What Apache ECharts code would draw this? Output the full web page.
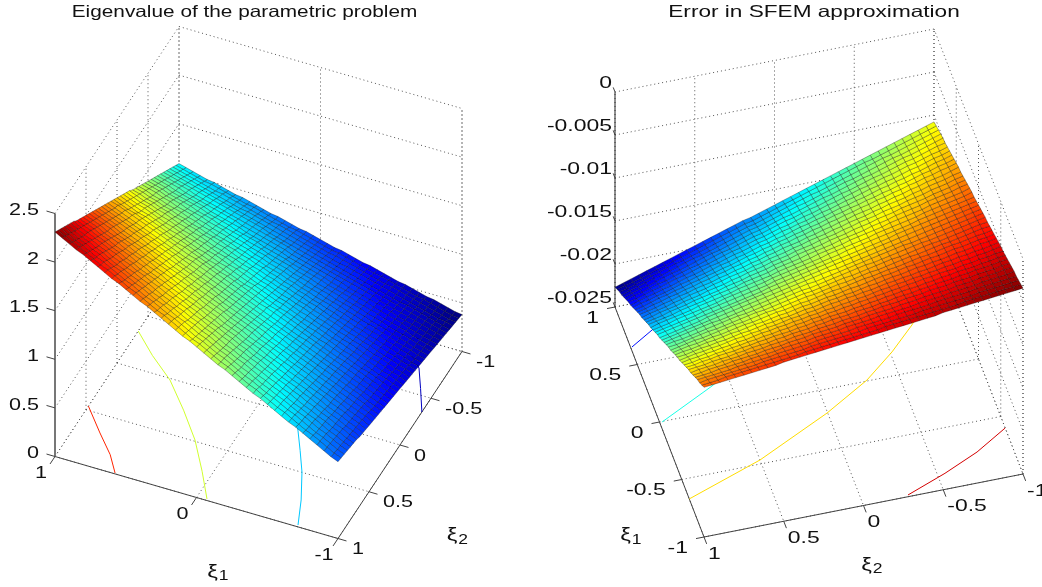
<!DOCTYPE html>
<html><head><meta charset="utf-8">
<style>html,body{margin:0;padding:0;background:#fff}#c{width:1042px;height:587px}</style>
<script src="https://cdn.jsdelivr.net/npm/echarts@6/dist/echarts.min.js"></script>
</head><body><div id="c"></div>
<script>
// parameter grid shared by both surfaces
const xiGrid=[-1,-.95,-.9,-.85,-.8,-.75,-.7,-.65,-.6,-.55,-.5,-.45,-.4,-.35,-.3,-.25,-.2,-.15,-.1,-.05,0,.05,.1,.15,.2,.25,.3,.35,.4,.45,.5,.55,.6,.65,.7,.75,.8,.85,.9,.95,1];
// eigenvalue x100: rows follow xi2 (-1..1), columns follow xi1 (-1..1)
const eigenRows=[
[38,39,41,43,45,46,48,50,52,53,55,57,59,61,62,64,66,68,69,71,73,75,77,78,80,82,84,85,87,89,91,93,94,96,98,100,101,103,105,107,109],
[39,40,42,44,46,48,49,51,53,55,57,59,60,62,64,66,68,70,71,73,75,77,79,81,82,84,86,88,90,92,93,95,97,99,101,103,104,106,108,110,112],
[40,41,43,45,47,49,51,53,55,57,58,60,62,64,66,68,70,72,73,75,77,79,81,83,85,87,88,90,92,94,96,98,100,102,103,105,107,109,111,113,115],
[41,43,44,46,48,50,52,54,56,58,60,62,64,66,68,70,71,73,75,77,79,81,83,85,87,89,91,93,95,97,98,100,102,104,106,108,110,112,114,116,118],
[42,44,46,48,50,52,54,55,57,59,61,63,65,67,69,71,73,75,77,79,81,83,85,87,89,91,93,95,97,99,101,103,105,107,109,111,113,115,117,119,121],
[43,45,47,49,51,53,55,57,59,61,63,65,67,69,71,73,75,77,79,81,83,85,87,89,91,93,96,98,100,102,104,106,108,110,112,114,116,118,120,122,124],
[44,46,48,50,52,54,56,58,60,62,65,67,69,71,73,75,77,79,81,83,85,87,90,92,94,96,98,100,102,104,106,108,110,112,114,116,119,121,123,125,127],
[45,47,49,51,53,55,57,60,62,64,66,68,70,72,75,77,79,81,83,85,87,89,92,94,96,98,100,102,104,107,109,111,113,115,117,119,121,124,126,128,130],
[46,48,50,52,54,57,59,61,63,65,68,70,72,74,76,78,81,83,85,87,89,91,94,96,98,100,102,104,107,109,111,113,115,118,120,122,124,126,129,131,133],
[47,49,51,53,56,58,60,62,65,67,69,71,74,76,78,80,83,85,87,89,91,94,96,98,100,103,105,107,109,112,114,116,118,121,123,125,127,129,132,134,136],
[48,50,52,55,57,59,61,64,66,68,71,73,75,78,80,82,84,87,89,91,94,96,98,100,103,105,107,110,112,114,116,119,121,123,126,128,130,132,135,137,139],
[49,51,53,56,58,60,63,65,67,70,72,75,77,79,82,84,86,89,91,93,96,98,100,103,105,107,110,112,114,117,119,121,124,126,128,131,133,135,138,140,142],
[50,52,55,57,59,62,64,67,69,71,74,76,79,81,83,86,88,90,93,95,98,100,102,105,107,110,112,114,117,119,121,124,126,129,131,133,136,138,141,143,145],
[51,53,56,58,61,63,66,68,70,73,75,78,80,83,85,87,90,92,95,97,100,102,104,107,109,112,114,117,119,121,124,126,129,131,134,136,138,141,143,146,148],
[52,54,57,59,62,64,67,69,72,74,77,79,82,84,87,89,92,94,97,99,102,104,107,109,112,114,117,119,122,124,126,129,131,134,136,139,141,144,146,149,151],
[53,56,58,61,63,66,68,71,73,76,78,81,83,86,89,91,94,96,99,101,104,106,109,111,114,116,119,122,124,127,129,132,134,137,139,142,144,147,149,152,154],
[54,57,59,62,64,67,70,72,75,77,80,83,85,88,90,93,95,98,101,103,106,108,111,114,116,119,121,124,126,129,132,134,137,139,142,145,147,150,152,155,158],
[55,58,60,63,66,68,71,74,76,79,81,84,87,89,92,95,97,100,102,105,108,110,113,116,118,121,124,126,129,132,134,137,139,142,145,147,150,153,155,158,161],
[56,59,61,64,67,69,72,75,78,80,83,86,88,91,94,96,99,102,104,107,110,112,115,118,121,123,126,129,131,134,137,139,142,145,147,150,153,156,158,161,164],
[57,60,63,65,68,71,74,76,79,82,84,87,90,93,95,98,101,104,106,109,112,115,117,120,123,126,128,131,134,136,139,142,145,147,150,153,156,158,161,164,167],
[58,61,64,66,69,72,75,78,80,83,86,89,92,94,97,100,103,105,108,111,114,117,119,122,125,128,131,133,136,139,142,145,147,150,153,156,159,161,164,167,170],
[59,62,65,68,71,73,76,79,82,85,88,90,93,96,99,102,105,108,110,113,116,119,122,125,128,130,133,136,139,142,145,147,150,153,156,159,162,165,167,170,173],
[60,63,66,69,72,75,78,81,83,86,89,92,95,98,101,104,107,110,113,115,118,121,124,127,130,133,136,139,142,144,147,150,153,156,159,162,165,168,171,174,176],
[61,64,67,70,73,76,79,82,85,88,91,94,97,99,102,105,108,111,114,117,120,123,126,129,132,135,138,141,144,146,149,152,155,158,161,164,167,170,173,176,179],
[62,65,68,71,74,77,80,83,86,89,92,95,98,101,104,107,110,113,116,119,122,125,128,131,134,137,140,143,146,149,152,155,158,161,164,167,170,173,176,179,182],
[63,66,69,72,75,78,82,85,88,91,94,97,100,103,106,109,112,115,118,121,124,127,130,133,136,139,142,145,148,151,155,158,161,164,167,170,173,176,179,182,185],
[64,67,70,74,77,80,83,86,89,92,95,98,101,104,108,111,114,117,120,123,126,129,132,135,139,142,145,148,151,154,157,160,163,166,170,173,176,179,182,185,188],
[65,68,72,75,78,81,84,87,90,94,97,100,103,106,109,112,116,119,122,125,128,131,134,138,141,144,147,150,153,156,160,163,166,169,172,175,178,182,185,188,191],
[66,70,73,76,79,82,86,89,92,95,98,101,105,108,111,114,117,121,124,127,130,133,137,140,143,146,149,153,156,159,162,165,169,172,175,178,181,185,188,191,194],
[67,71,74,77,80,84,87,90,93,97,100,103,106,110,113,116,119,123,126,129,132,136,139,142,145,149,152,155,158,162,165,168,171,175,178,181,184,188,191,194,197],
[68,72,75,78,82,85,88,91,95,98,101,105,108,111,115,118,121,124,128,131,134,138,141,144,148,151,154,157,161,164,167,171,174,177,181,184,187,190,194,197,200],
[69,73,76,80,83,86,90,93,96,100,103,106,110,113,116,120,123,126,130,133,136,140,143,146,150,153,156,160,163,167,170,173,177,180,183,187,190,193,197,200,203],
[70,74,77,81,84,87,91,94,98,101,104,108,111,115,118,121,125,128,132,135,138,142,145,149,152,155,159,162,166,169,172,176,179,183,186,189,193,196,200,203,206],
[71,75,78,82,85,89,92,96,99,103,106,109,113,116,120,123,127,130,134,137,141,144,147,151,154,158,161,165,168,172,175,178,182,185,189,192,196,199,203,206,209],
[73,76,80,83,87,90,94,97,101,104,108,111,115,118,122,125,129,132,136,139,143,146,150,153,157,160,164,167,171,174,178,181,185,188,192,195,199,202,206,209,213],
[74,77,81,84,88,91,95,98,102,106,109,113,116,120,123,127,130,134,137,141,145,148,152,155,159,162,166,169,173,177,180,184,187,191,194,198,201,205,208,212,216],
[75,78,82,85,89,93,96,100,103,107,111,114,118,121,125,129,132,136,139,143,147,150,154,157,161,165,168,172,175,179,183,186,190,193,197,201,204,208,211,215,219],
[76,79,83,87,90,94,98,101,105,109,112,116,119,123,127,130,134,138,141,145,149,152,156,160,163,167,171,174,178,182,185,189,193,196,200,204,207,211,214,218,222],
[77,80,84,88,91,95,99,103,106,110,114,117,121,125,128,132,136,140,143,147,151,154,158,162,166,169,173,177,180,184,188,191,195,199,203,206,210,214,217,221,225],
[78,81,85,89,93,96,100,104,108,111,115,119,123,126,130,134,138,141,145,149,153,156,160,164,168,172,175,179,183,187,190,194,198,202,205,209,213,217,220,224,228],
[79,82,86,90,94,98,102,105,109,113,117,121,124,128,132,136,140,143,147,151,155,159,162,166,170,174,178,182,185,189,193,197,200,204,208,212,216,219,223,227,231]
];
// error magnitude x1e-4 (plotted negative): rows follow xi2 (-1..1), columns follow xi1 (-1..1)
const errorRows=[
[34,36,38,40,41,43,45,47,49,51,52,54,56,58,60,62,64,65,67,69,71,73,75,76,78,80,82,84,86,87,89,91,93,95,97,99,100,102,104,106,108],
[35,37,39,41,43,44,46,48,50,52,54,56,58,60,62,63,65,67,69,71,73,75,77,79,81,82,84,86,88,90,92,94,96,98,100,101,103,105,107,109,111],
[36,38,40,42,44,46,48,50,52,54,56,58,59,61,63,65,67,69,71,73,75,77,79,81,83,85,87,89,91,93,94,96,98,100,102,104,106,108,110,112,114],
[37,39,41,43,45,47,49,51,53,55,57,59,61,63,65,67,69,71,73,75,77,79,81,83,85,87,89,91,93,95,97,99,101,103,105,107,109,111,113,115,117],
[38,40,42,44,46,48,50,52,55,57,59,61,63,65,67,69,71,73,75,77,79,81,83,85,87,89,91,93,95,97,99,101,104,106,108,110,112,114,116,118,120],
[39,41,43,45,48,50,52,54,56,58,60,62,64,66,68,71,73,75,77,79,81,83,85,87,89,91,94,96,98,100,102,104,106,108,110,112,114,117,119,121,123],
[40,42,45,47,49,51,53,55,57,60,62,64,66,68,70,72,75,77,79,81,83,85,87,89,92,94,96,98,100,102,104,107,109,111,113,115,117,119,122,124,126],
[41,43,46,48,50,52,54,57,59,61,63,65,68,70,72,74,76,79,81,83,85,87,89,92,94,96,98,100,103,105,107,109,111,114,116,118,120,122,124,127,129],
[42,45,47,49,51,54,56,58,60,62,65,67,69,71,74,76,78,80,83,85,87,89,92,94,96,98,100,103,105,107,109,112,114,116,118,121,123,125,127,130,132],
[43,46,48,50,53,55,57,59,62,64,66,69,71,73,75,78,80,82,85,87,89,91,94,96,98,100,103,105,107,110,112,114,116,119,121,123,126,128,130,132,135],
[44,47,49,51,54,56,58,61,63,65,68,70,72,75,77,79,82,84,86,89,91,93,96,98,100,103,105,107,110,112,114,117,119,121,124,126,128,131,133,135,138],
[46,48,50,53,55,57,60,62,65,67,69,72,74,76,79,81,84,86,88,91,93,96,98,100,103,105,107,110,112,115,117,119,122,124,126,129,131,134,136,138,141],
[47,49,51,54,56,59,61,64,66,68,71,73,76,78,81,83,85,88,90,93,95,98,100,102,105,107,110,112,115,117,119,122,124,127,129,132,134,136,139,141,144],
[48,50,53,55,58,60,62,65,67,70,72,75,77,80,82,85,87,90,92,95,97,100,102,105,107,110,112,114,117,119,122,124,127,129,132,134,137,139,142,144,147],
[49,51,54,56,59,61,64,66,69,71,74,76,79,81,84,87,89,92,94,97,99,102,104,107,109,112,114,117,119,122,124,127,129,132,135,137,140,142,145,147,150],
[50,52,55,57,60,63,65,68,70,73,75,78,81,83,86,88,91,93,96,99,101,104,106,109,111,114,117,119,122,124,127,129,132,135,137,140,142,145,148,150,153],
[51,53,56,59,61,64,66,69,72,74,77,80,82,85,87,90,93,95,98,101,103,106,108,111,114,116,119,122,124,127,129,132,135,137,140,143,145,148,150,153,156],
[52,54,57,60,62,65,68,71,73,76,79,81,84,87,89,92,95,97,100,103,105,108,111,113,116,119,121,124,127,129,132,135,137,140,143,145,148,151,153,156,159],
[53,56,58,61,64,66,69,72,75,77,80,83,86,88,91,94,96,99,102,105,107,110,113,115,118,121,124,126,129,132,134,137,140,143,145,148,151,153,156,159,162],
[54,57,59,62,65,68,71,73,76,79,82,84,87,90,93,95,98,101,104,106,109,112,115,118,120,123,126,129,131,134,137,140,142,145,148,151,154,156,159,162,165],
[55,58,61,63,66,69,72,75,78,80,83,86,89,92,94,97,100,103,106,108,111,114,117,120,123,125,128,131,134,137,139,142,145,148,151,153,156,159,162,165,168],
[56,59,62,65,67,70,73,76,79,82,85,87,90,93,96,99,102,105,108,110,113,116,119,122,125,128,130,133,136,139,142,145,148,150,153,156,159,162,165,168,171],
[57,60,63,66,69,72,75,77,80,83,86,89,92,95,98,101,104,107,109,112,115,118,121,124,127,130,133,136,139,141,144,147,150,153,156,159,162,165,168,171,174],
[58,61,64,67,70,73,76,79,82,85,88,91,94,97,100,102,105,108,111,114,117,120,123,126,129,132,135,138,141,144,147,150,153,156,159,162,165,168,171,174,177],
[59,62,65,68,71,74,77,80,83,86,89,92,95,98,101,104,107,110,113,116,119,122,125,128,131,134,137,140,143,146,149,152,155,158,161,164,167,170,173,176,179],
[60,63,66,69,72,75,79,82,85,88,91,94,97,100,103,106,109,112,115,118,121,124,127,130,134,137,140,143,146,149,152,155,158,161,164,167,170,173,176,179,182],
[61,64,67,71,74,77,80,83,86,89,92,95,99,102,105,108,111,114,117,120,123,126,130,133,136,139,142,145,148,151,154,157,161,164,167,170,173,176,179,182,185],
[62,65,69,72,75,78,81,84,88,91,94,97,100,103,106,110,113,116,119,122,125,129,132,135,138,141,144,147,151,154,157,160,163,166,169,173,176,179,182,185,188],
[63,67,70,73,76,79,83,86,89,92,95,99,102,105,108,111,115,118,121,124,127,131,134,137,140,143,147,150,153,156,159,163,166,169,172,175,179,182,185,188,191],
[64,68,71,74,77,81,84,87,90,94,97,100,103,107,110,113,116,120,123,126,129,133,136,139,142,146,149,152,155,159,162,165,168,172,175,178,181,185,188,191,194],
[65,69,72,75,79,82,85,89,92,95,98,102,105,108,112,115,118,122,125,128,131,135,138,141,145,148,151,155,158,161,164,168,171,174,178,181,184,188,191,194,197],
[67,70,73,77,80,83,87,90,93,97,100,103,107,110,113,117,120,123,127,130,133,137,140,143,147,150,154,157,160,164,167,170,174,177,180,184,187,190,194,197,200],
[68,71,74,78,81,85,88,91,95,98,102,105,108,112,115,118,122,125,129,132,135,139,142,146,149,152,156,159,163,166,169,173,176,180,183,186,190,193,197,200,203],
[69,72,76,79,82,86,89,93,96,100,103,106,110,113,117,120,124,127,131,134,137,141,144,148,151,155,158,162,165,168,172,175,179,182,186,189,193,196,199,203,206],
[70,73,77,80,84,87,91,94,98,101,105,108,112,115,119,122,126,129,132,136,139,143,146,150,153,157,160,164,167,171,174,178,181,185,188,192,195,199,202,206,209],
[71,74,78,81,85,88,92,96,99,103,106,110,113,117,120,124,127,131,134,138,142,145,149,152,156,159,163,166,170,173,177,180,184,188,191,195,198,202,205,209,212],
[72,75,79,83,86,90,93,97,100,104,108,111,115,118,122,126,129,133,136,140,144,147,151,154,158,161,165,169,172,176,179,183,187,190,194,197,201,204,208,212,215],
[73,76,80,84,87,91,95,98,102,106,109,113,116,120,124,127,131,135,138,142,146,149,153,156,160,164,167,171,175,178,182,185,189,193,196,200,204,207,211,215,218],
[74,78,81,85,89,92,96,100,103,107,111,114,118,122,125,129,133,137,140,144,148,151,155,159,162,166,170,173,177,181,184,188,192,195,199,203,206,210,214,218,221],
[75,79,82,86,90,94,97,101,105,109,112,116,120,123,127,131,135,138,142,146,150,153,157,161,164,168,172,176,179,183,187,191,194,198,202,205,209,213,217,220,224],
[76,80,84,87,91,95,99,102,106,110,114,118,121,125,129,133,136,140,144,148,152,155,159,163,167,170,174,178,182,185,189,193,197,201,204,208,212,216,219,223,227]
];
// axis ticks
const eigenZTicks=[0,.5,1,1.5,2,2.5];
const eigenXi1Ticks=[-1,0,1];
const eigenXi2Ticks=[-1,-.5,0,.5,1];
const errorZTicks=[-.025,-.02,-.015,-.01,-.005,0];
const errorZLabels=['-0.025','-0.02','-0.015','-0.01','-0.005','0'];
const errorXiTicks=[-1,-.5,0,.5,1];
// floor contours, [xi1,xi2]; levels in the values' own units
const eigenLevels=[.5,1,1.5,2];
const eigenContours=[
[[-.7,-.85],[-.81,-.74],[-.9,-.56],[-1,-.353]],
[[-.2,-.1],[-.336,.131],[-.43,.31],[-.525,.497],[-.63,.75],[-.71,.983]],
[[1,-.342],[.82,-.16],[.619,.015],[.42,.25],[.235,.488],[.07,.75],[-.068,.986]],
[[1,.461],[.826,.672],[.68,.84],[.579,.992]]
];
const errorLevels=[-.02,-.015,-.01,-.005];
const errorContours=[
[[.85,.72],[.755,.836],[.65,.991]],
[[.35,.4],[.207,.613],[-.004,.985]],
[[.5,-.78],[.381,-.689],[.195,-.512],[.008,-.303],[-.195,.004],[-.467,.5],[-.669,1]],
[[-.6,-1],[-.749,-.782],[-.87,-.547],[-.986,-.283]]
];
const titles=['Eigenvalue of the parametric problem','Error in SFEM approximation'];

// view of each box: how one unit of xi1, xi2 and z lands on the page
const panels=[
 {org:[258.5,404],u:[-141.5,-41],v:[-62,93.5],zMin:0,zMax:2.5,zPx:97.2,font:17,sx:1.27,titleSx:1.26,titleX:244.5,zAxis:{w:2,c:'#777'},
  rows:eigenRows.map(r=>r.map(x=>x/100)),zTicks:eigenZTicks,zLabels:eigenZTicks.map(String),t1:eigenXi1Ticks,t2:eigenXi2Ticks,levels:eigenLevels,contours:eigenContours},
 {org:[819,390.5],u:[-44.5,-115],v:[-159.5,31.5],zMin:-.025,zMax:0,zPx:8600,font:17,sx:1.35,titleSx:1.37,titleX:814,zAxis:{w:1,c:'#222'},
  rows:errorRows.map(r=>r.map(x=>-x*1e-4)),zTicks:errorZTicks,zLabels:errorZLabels,t1:errorXiTicks,t2:errorXiTicks,levels:errorLevels,contours:errorContours}
];
function proj(p,a,b,z){return [p.org[0]+a*p.u[0]+b*p.v[0],p.org[1]+a*p.u[1]+b*p.v[1]-(z-p.zMin)*p.zPx];}
function jet(t){const c=x=>Math.round(255*Math.max(0,Math.min(1,x)));
 return 'rgb('+c(Math.min(4*t-1.5,4.5-4*t))+','+c(Math.min(4*t-.5,3.5-4*t))+','+c(Math.min(4*t+.5,2.5-4*t))+')';}

const lines=[],polys=[],cells=[],texts=[];
const DOT={stroke:'#555',lineWidth:1,lineDash:[1,3]},AX={stroke:'#444',lineWidth:1};
panels.forEach((p,pi)=>{
 const flat=p.rows.flat();p.lo=Math.min(...flat);p.hi=Math.max(...flat);
 const seg=(A,B,s)=>lines.push({pts:[proj(p,...A),proj(p,...B)],s});
 const zb=p.zMin,zt=p.zMax;
 p.t1.forEach(a=>{seg([a,1,zb],[a,-1,zb],DOT);seg([a,-1,zb],[a,-1,zt],DOT);});
 p.t2.forEach(b=>{seg([1,b,zb],[-1,b,zb],DOT);seg([1,b,zb],[1,b,zt],DOT);});
 p.zTicks.forEach(z=>{seg([1,1,z],[1,-1,z],DOT);seg([1,-1,z],[-1,-1,z],DOT);});
 seg([-1,-1,zb],[-1,-1,zt],DOT);
 seg([1,1,zb],[-1,1,zb],AX);seg([-1,1,zb],[-1,-1,zb],AX);
 seg([1,1,zb],[1,1,zt],{stroke:p.zAxis.c,lineWidth:p.zAxis.w});
 const pad=pi?{z:.04,a:.05,b:.06}:{z:.06,a:.08,b:.06};
 p.zTicks.forEach(z=>seg([1,1,z],[1+pad.z,1,z],AX));
 p.t1.forEach(a=>seg([a,1,zb],[a,1+pad.a,zb],AX));
 p.t2.forEach(b=>seg([-1,b,zb],[-1-pad.b,b,zb],AX));
 p.contours.forEach((ct,i)=>polys.push({pts:ct.map(q=>proj(p,q[0],q[1],zb)),c:jet((p.levels[i]-p.lo)/(p.hi-p.lo))}));
 for(let j=0;j<xiGrid.length-1;j++)for(let k=0;k<xiGrid.length-1;k++){
  const R=p.rows,m=(R[j][k]+R[j][k+1]+R[j+1][k]+R[j+1][k+1])/4;
  cells.push({pts:[[k,j],[k+1,j],[k+1,j+1],[k,j+1]].map(q=>proj(p,xiGrid[q[0]],xiGrid[q[1]],R[q[1]][q[0]])),c:jet((m-p.lo)/(p.hi-p.lo))});
 }
 const f=p.font,sx=p.sx;
 const lab=(at,text,dx,dy,align,size,scale)=>{const q=proj(p,...at);texts.push({x:q[0]+dx,y:q[1]+dy,text,align,size:size||f,sx:scale||sx});};
 const sym=(at,digit,dx,dy)=>{lab(at,'ξ',dx,dy,'center',19,1.25);lab(at,digit,dx+11,dy+5,'center',14,1.25);};
 if(!pi){
  p.zTicks.forEach((z,i)=>lab([1,1,z],p.zLabels[i],-16,-3,'right'));
  p.t1.forEach(a=>lab([a,1,zb],String(a),-14,16.5,'center'));
  p.t2.forEach(b=>lab([-1,b,zb],String(b),14,11,'left'));
  sym([0,1,zb],'1',16,74);
  sym([-1,0,zb],'2',52,90);
 }else{
  p.zTicks.forEach((z,i)=>lab([1,1,z],p.zLabels[i],-3,-9,'right'));
  p.t1.forEach(a=>lab([a,1,zb],String(a),-16,11,'right'));
  p.t2.forEach(b=>lab([-1,b,zb],String(b),4,17,'left'));
  sym([.2,1,zb],'1',-25,136);
  sym([-1,0,zb],'2',3,59);
 }
 texts.push({x:p.titleX,y:12,text:titles[pi],align:'center',size:16.5,sx:p.titleSx});
});

const ids=a=>a.map((_,i)=>[i,i]);
const pt=(api,q)=>api.coord(q);
const chart=echarts.init(document.getElementById('c'),null,{renderer:'canvas'});
const base={type:'custom',coordinateSystem:'cartesian2d',silent:true,animation:false,clip:false,progressive:0,encode:{x:0,y:1}};
chart.setOption({
 animation:false,backgroundColor:'#fff',
 grid:{left:0,right:0,top:0,bottom:0},
 xAxis:{type:'value',min:0,max:1042,show:false},
 yAxis:{type:'value',min:0,max:587,inverse:true,show:false},
 series:[
  {...base,name:'box',data:ids(lines),renderItem:(ps,api)=>{const l=lines[ps.dataIndex],a=pt(api,l.pts[0]),b=pt(api,l.pts[1]);
    return {type:'line',shape:{x1:a[0],y1:a[1],x2:b[0],y2:b[1]},style:{fill:null,...l.s}};}},
  {...base,name:'contours',data:ids(polys),renderItem:(ps,api)=>{const l=polys[ps.dataIndex];
    return {type:'polyline',shape:{points:l.pts.map(q=>pt(api,q))},style:{fill:null,stroke:l.c,lineWidth:1}};}},
  {...base,name:'surface',data:ids(cells),renderItem:(ps,api)=>{const l=cells[ps.dataIndex];
    return {type:'polygon',shape:{points:l.pts.map(q=>pt(api,q))},style:{fill:l.c,stroke:'rgba(0,0,0,0.5)',lineWidth:.6}};}},
  {...base,name:'labels',data:ids(texts),renderItem:(ps,api)=>{const l=texts[ps.dataIndex],a=pt(api,[l.x,l.y]);
    return {type:'text',x:a[0],y:a[1],scaleX:l.sx,style:{text:l.text,fontFamily:'"Liberation Sans","DejaVu Sans"',fontSize:l.size,fill:'#111',align:l.align,verticalAlign:'middle'}};}}
 ]
});
</script>
</body></html>
